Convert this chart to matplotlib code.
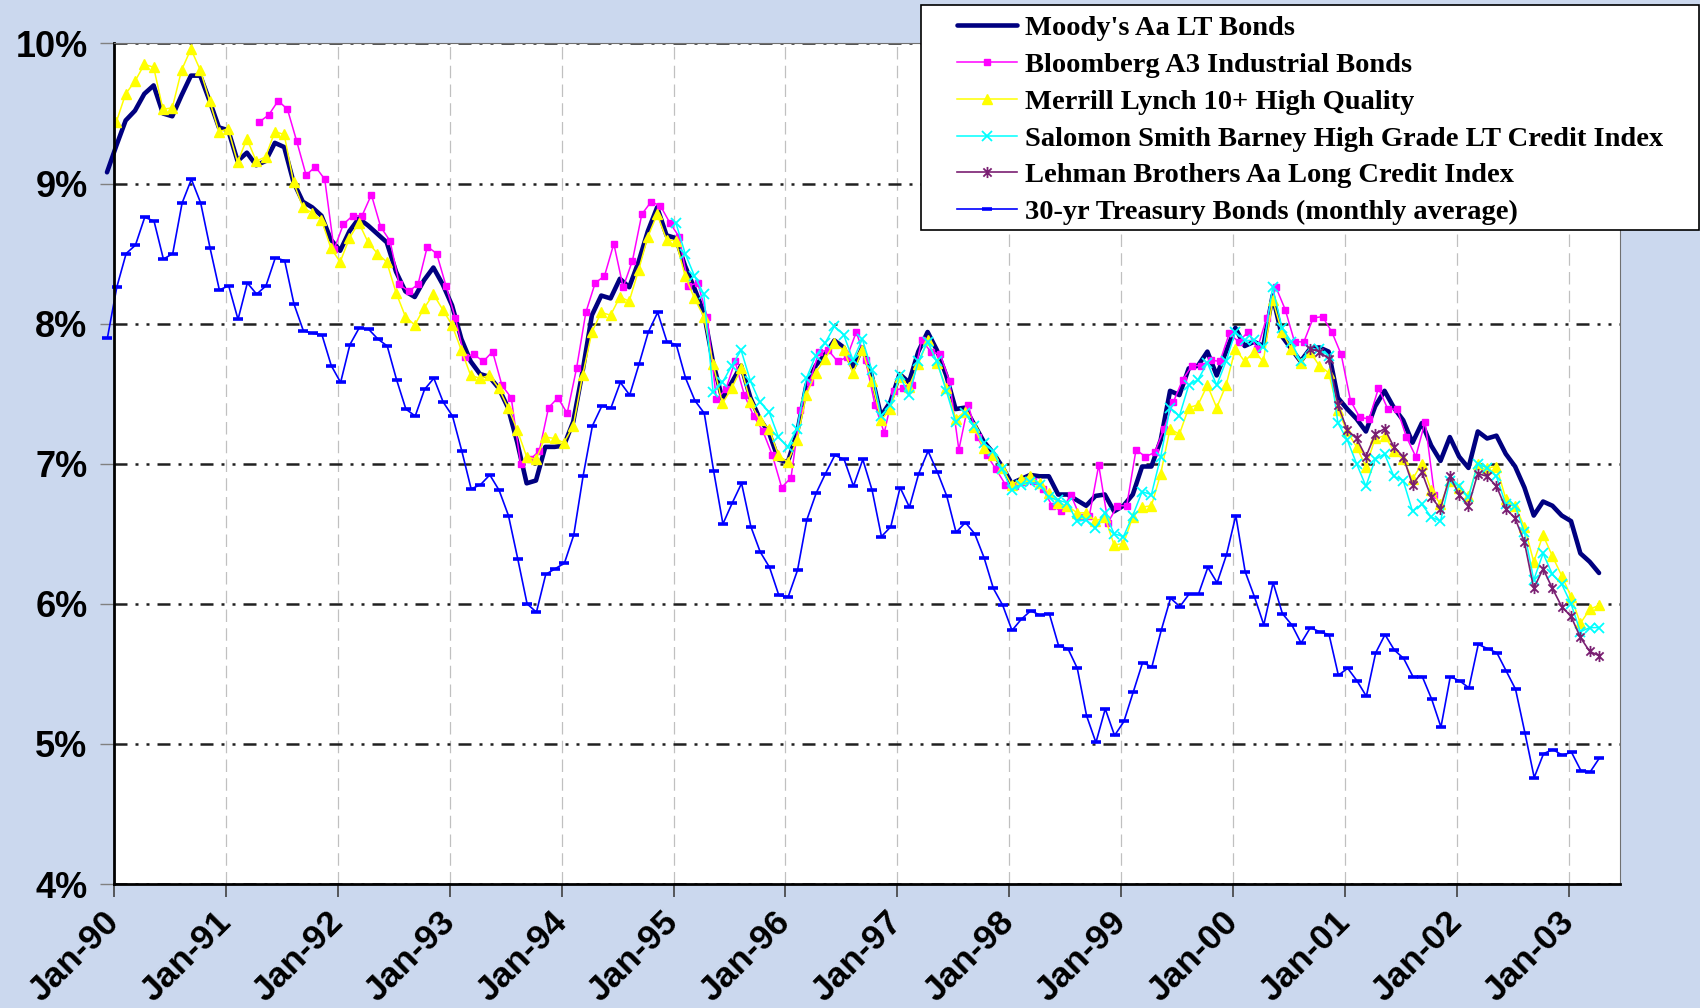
import numpy as np
import matplotlib.pyplot as plt
from matplotlib.path import Path
from matplotlib.patches import Rectangle

year_labels = ['Jan-90', 'Jan-91', 'Jan-92', 'Jan-93', 'Jan-94', 'Jan-95', 'Jan-96',
               'Jan-97', 'Jan-98', 'Jan-99', 'Jan-00', 'Jan-01', 'Jan-02', 'Jan-03']
pct_labels = ['4%', '5%', '6%', '7%', '8%', '9%', '10%']

# monthly yields in %, Dec-89 .. Apr-03
moodys = [9.08,
          9.27, 9.45, 9.52, 9.64, 9.70, 9.50, 9.48, 9.63, 9.77, 9.77, 9.59, 9.40,
          9.38, 9.16, 9.22, 9.13, 9.16, 9.29, 9.26, 9.01, 8.87, 8.83, 8.77, 8.60,
          8.52, 8.66, 8.75, 8.70, 8.64, 8.58, 8.37, 8.23, 8.19, 8.31, 8.40, 8.28,
          8.13, 7.89, 7.73, 7.64, 7.62, 7.54, 7.40, 7.15, 6.86, 6.88, 7.12, 7.12,
          7.13, 7.30, 7.66, 8.06, 8.20, 8.18, 8.32, 8.26, 8.44, 8.66, 8.83, 8.63,
          8.61, 8.41, 8.25, 8.08, 7.72, 7.46, 7.58, 7.70, 7.47, 7.32, 7.22, 7.03,
          7.01, 7.22, 7.56, 7.70, 7.78, 7.88, 7.83, 7.68, 7.83, 7.63, 7.34, 7.44,
          7.64, 7.58, 7.80, 7.94, 7.81, 7.63, 7.39, 7.40, 7.28, 7.16, 7.08, 6.98,
          6.86, 6.89, 6.92, 6.91, 6.91, 6.78, 6.78, 6.74, 6.70, 6.77, 6.78, 6.66,
          6.70, 6.78, 6.98, 6.98, 7.17, 7.52, 7.49, 7.68, 7.70, 7.80, 7.63, 7.80,
          7.97, 7.84, 7.87, 7.84, 8.20, 7.91, 7.82, 7.73, 7.82, 7.83, 7.80, 7.47,
          7.39, 7.32, 7.23, 7.41, 7.52, 7.40, 7.31, 7.15, 7.29, 7.13, 7.02, 7.19,
          7.05, 6.97, 7.23, 7.18, 7.20, 7.07, 6.98, 6.83, 6.63, 6.73, 6.70, 6.63,
          6.59, 6.36, 6.30, 6.22]

treasury30 = [7.90,
              8.26, 8.50, 8.56, 8.76, 8.73, 8.46, 8.50, 8.86, 9.03, 8.86, 8.54, 8.24,
              8.27, 8.03, 8.29, 8.21, 8.27, 8.47, 8.45, 8.14, 7.95, 7.93, 7.92, 7.70,
              7.58, 7.85, 7.97, 7.96, 7.89, 7.84, 7.60, 7.39, 7.34, 7.53, 7.61, 7.44,
              7.34, 7.09, 6.82, 6.85, 6.92, 6.81, 6.63, 6.32, 6.00, 5.94, 6.21, 6.25,
              6.29, 6.49, 6.91, 7.27, 7.41, 7.40, 7.58, 7.49, 7.71, 7.94, 8.08, 7.87,
              7.85, 7.61, 7.45, 7.36, 6.95, 6.57, 6.72, 6.86, 6.55, 6.37, 6.26, 6.06,
              6.05, 6.24, 6.60, 6.79, 6.93, 7.06, 7.03, 6.84, 7.03, 6.81, 6.48, 6.55,
              6.83, 6.69, 6.93, 7.09, 6.94, 6.77, 6.51, 6.58, 6.50, 6.33, 6.11, 5.99,
              5.81, 5.89, 5.95, 5.92, 5.93, 5.70, 5.68, 5.54, 5.20, 5.01, 5.25, 5.06,
              5.16, 5.37, 5.58, 5.55, 5.81, 6.04, 5.98, 6.07, 6.07, 6.26, 6.15, 6.35,
              6.63, 6.23, 6.05, 5.85, 6.15, 5.93, 5.85, 5.72, 5.83, 5.80, 5.78, 5.49,
              5.54, 5.45, 5.34, 5.65, 5.78, 5.67, 5.61, 5.48, 5.48, 5.32, 5.12, 5.48,
              5.45, 5.40, 5.71, 5.68, 5.65, 5.52, 5.39, 5.08, 4.76, 4.93, 4.96, 4.92,
              4.94, 4.81, 4.80, 4.90]

# Jan-90 .. Apr-03
merrill = [9.44, 9.64, 9.73, 9.85, 9.83, 9.53, 9.54, 9.81, 9.96, 9.81, 9.59, 9.37,
           9.39, 9.15, 9.32, 9.16, 9.19, 9.37, 9.35, 9.01, 8.83, 8.79, 8.74, 8.54,
           8.44, 8.61, 8.72, 8.58, 8.50, 8.44, 8.22, 8.05, 7.99, 8.11, 8.21, 8.10,
           7.99, 7.81, 7.63, 7.61, 7.63, 7.54, 7.40, 7.24, 7.05, 7.03, 7.19, 7.18,
           7.15, 7.27, 7.63, 7.94, 8.08, 8.06, 8.19, 8.16, 8.38, 8.62, 8.78, 8.60,
           8.59, 8.34, 8.18, 8.05, 7.71, 7.43, 7.54, 7.68, 7.44, 7.31, 7.25, 7.06,
           7.01, 7.17, 7.49, 7.65, 7.75, 7.86, 7.81, 7.65, 7.81, 7.59, 7.31, 7.39,
           7.62, 7.55, 7.71, 7.88, 7.72, 7.54, 7.32, 7.37, 7.26, 7.11, 7.06, 6.97,
           6.85, 6.89, 6.91, 6.86, 6.79, 6.72, 6.70, 6.65, 6.65, 6.59, 6.62, 6.42,
           6.43, 6.62, 6.69, 6.70, 6.93, 7.25, 7.21, 7.40, 7.42, 7.56, 7.40, 7.56,
           7.82, 7.73, 7.80, 7.73, 8.17, 7.94, 7.82, 7.72, 7.80, 7.70, 7.65, 7.38,
           7.23, 7.12, 6.98, 7.18, 7.20, 7.09, 7.03, 6.89, 7.00, 6.81, 6.71, 6.88,
           6.83, 6.77, 7.00, 6.97, 6.98, 6.75, 6.70, 6.55, 6.30, 6.49, 6.34, 6.20,
           6.05, 5.86, 5.96, 5.99]

# Apr-91 .. Oct-01
bloomberg = [9.44, 9.49, 9.59, 9.53, 9.30, 9.06, 9.12, 9.03, 8.53,
             8.71, 8.77, 8.77, 8.92, 8.69, 8.59, 8.28, 8.23, 8.28, 8.55, 8.50, 8.27,
             8.04, 7.76, 7.78, 7.73, 7.80, 7.56, 7.47, 7.00, 7.03, 7.09, 7.40, 7.47,
             7.36, 7.68, 8.08, 8.29, 8.34, 8.57, 8.26, 8.45, 8.78, 8.87, 8.84, 8.72,
             8.62, 8.27, 8.29, 8.05, 7.46, 7.53, 7.73, 7.49, 7.34, 7.23, 7.06, 6.83,
             6.90, 7.38, 7.58, 7.80, 7.81, 7.73, 7.76, 7.94, 7.74, 7.42, 7.22, 7.52,
             7.54, 7.56, 7.88, 7.80, 7.78, 7.59, 7.10, 7.42, 7.19, 7.06, 6.96, 6.85,
             6.84, 6.87, 6.88, 6.82, 6.70, 6.66, 6.78, 6.62, 6.63, 6.99, 6.58, 6.70,
             6.70, 7.10, 7.05, 7.08, 7.25, 7.44, 7.60, 7.70, 7.70, 7.74, 7.73, 7.93,
             7.87, 7.94, 7.82, 8.04, 8.26, 8.10, 7.87, 7.87, 8.04, 8.05, 7.94, 7.78,
             7.45, 7.33, 7.32, 7.54, 7.39, 7.39, 7.19, 7.05, 7.30, 6.78]

# Jan-95 .. Apr-03
salomon = [8.72, 8.50, 8.34, 8.21, 7.51, 7.58, 7.70, 7.81, 7.59, 7.44, 7.37, 7.19,
           7.12, 7.25, 7.61, 7.77, 7.86, 7.98, 7.92, 7.74, 7.89, 7.67, 7.34, 7.42,
           7.63, 7.49, 7.73, 7.87, 7.73, 7.52, 7.30, 7.36, 7.27, 7.15, 7.09, 6.96,
           6.81, 6.85, 6.87, 6.85, 6.76, 6.74, 6.72, 6.59, 6.60, 6.54, 6.65, 6.50,
           6.48, 6.63, 6.80, 6.78, 7.05, 7.40, 7.34, 7.56, 7.60, 7.72, 7.56, 7.73,
           7.94, 7.88, 7.88, 7.83, 8.26, 7.97, 7.87, 7.73, 7.82, 7.82, 7.77, 7.29,
           7.17, 7.00, 6.84, 7.03, 7.07, 6.91, 6.88, 6.66, 6.71, 6.62, 6.59, 6.88,
           6.84, 6.76, 7.00, 6.97, 6.91, 6.71, 6.70, 6.51, 6.17, 6.36, 6.21, 6.14,
           6.00, 5.80, 5.83, 5.83]

# Sep-00 .. Apr-03
lehman = [7.82, 7.80, 7.75, 7.42, 7.24, 7.18, 7.05, 7.21, 7.25, 7.12, 7.05, 6.85,
          6.94, 6.76, 6.68, 6.91, 6.78, 6.70, 6.93, 6.91, 6.84, 6.68, 6.61, 6.44,
          6.11, 6.25, 6.11, 5.98, 5.91, 5.76, 5.66, 5.63]

# x in months from Jan-90
x_moodys = np.arange(-1, len(moodys) - 1) + 0.25
x_tsy = np.arange(-1, len(treasury30) - 1) + 0.3
x_merrill = np.arange(len(merrill)) + 0.25
x_bloom = np.arange(15, 15 + len(bloomberg)) + 0.6
x_salomon = np.arange(60, 60 + len(salomon)) + 0.25
x_lehman = np.arange(128, 128 + len(lehman)) + 0.25

# asterisk marker: an x with a vertical bar through it
asterisk = Path([(-1, -1), (1, 1), (-1, 1), (1, -1), (0, -1.35), (0, 1.35)],
                [Path.MOVETO, Path.LINETO] * 3)

fig = plt.figure(figsize=(17, 10.08), dpi=100, facecolor='#cbd8ee')
ax = fig.add_axes([114 / 1700, 1 - 884 / 1008, (1620 - 114) / 1700, (884 - 43.4) / 1008])
ax.set_facecolor('white')

ax.plot(x_moodys, moodys, color='#000080', lw=3.3, clip_on=False,
        solid_capstyle='round', label="Moody's Aa LT Bonds")
ax.plot(x_bloom, bloomberg, color='#ff00ff', lw=1.1, marker='s', ms=4.6,
        label='Bloomberg A3 Industrial Bonds')
ax.plot(x_merrill, merrill, color='#ffff00', lw=1.1, marker='^', ms=6.8,
        label='Merrill Lynch 10+ High Quality')
ax.plot(x_salomon, salomon, color='#00ffff', lw=1.1, marker='x', ms=7.5, mew=1.3,
        label='Salomon Smith Barney High Grade LT Credit Index')
ax.plot(x_lehman, lehman, color='#7a1f72', lw=1.2, marker=asterisk, ms=8, mew=1.3,
        mfc='none', label='Lehman Brothers Aa Long Credit Index')
ax.plot(x_tsy, treasury30, color='#0000ff', lw=1.2, marker='_', ms=6.5, mew=2.6,
        clip_on=False, label='30-yr Treasury Bonds (monthly average)')

ax.set_xlim(0, 161.5)
ax.set_ylim(4, 10)
ax.set_xticks(np.arange(0, 12 * len(year_labels), 12))
ax.set_xticklabels(year_labels, rotation=45, ha='right', va='center',
                   rotation_mode='anchor')
ax.set_yticks(np.arange(4, 11))
ax.set_yticklabels(pct_labels)

for lab in ax.get_xticklabels() + ax.get_yticklabels():
    lab.set_fontfamily('Liberation Sans')
    lab.set_fontweight('bold')
ax.tick_params(axis='y', labelsize=26, length=10, width=1, color='#808080', pad=9)
ax.tick_params(axis='x', labelsize=25.5, length=9, width=1.2, color='#404040', pad=15)

ax.set_axisbelow(True)
ax.yaxis.grid(True, color='#202020', lw=1.8, linestyle=(0, (5.2, 3.2, 1.2, 3.2, 1.2, 3.2)))
ax.xaxis.grid(True, color='#c0c0c0', lw=0.9, linestyle=(0, (10, 5)))

for side in ['left', 'bottom']:
    ax.spines[side].set_linewidth(2)
    ax.spines[side].set_color('black')
for side in ['top', 'right']:
    ax.spines[side].set_linewidth(0.8)
    ax.spines[side].set_color('#707070')

# legend box
fig.patches.append(Rectangle((921 / 1700, 1 - 230 / 1008), (1699 - 921) / 1700, 225 / 1008,
                             transform=fig.transFigure, facecolor='white',
                             edgecolor='black', lw=1.2))
handles, labels = ax.get_legend_handles_labels()
fig.legend(handles, labels, loc='upper left', bbox_to_anchor=(957 / 1700, 1 - 15.5 / 1008),
           frameon=False, borderpad=0, borderaxespad=0, handlelength=2.1,
           handletextpad=0.3, labelspacing=0.38,
           prop={'family': 'Liberation Serif', 'weight': 'bold', 'size': 20.5})

fig.savefig('out.png', dpi=100, facecolor=fig.get_facecolor())
